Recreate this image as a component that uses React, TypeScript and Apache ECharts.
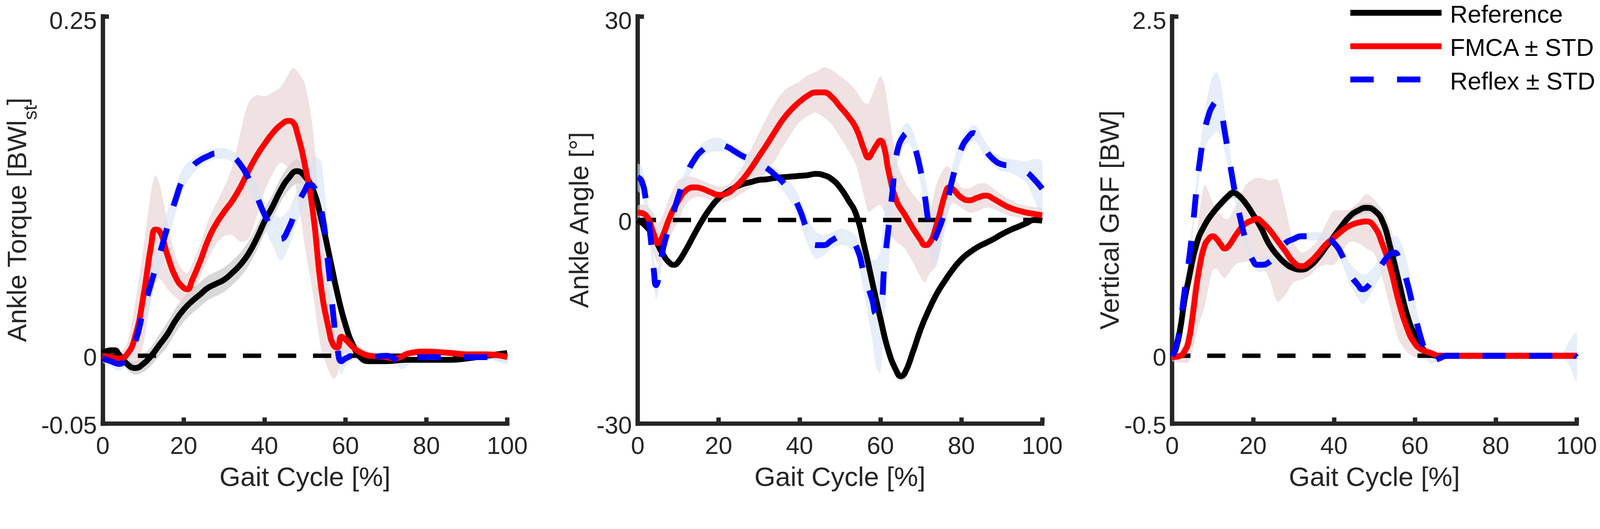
import React, { useEffect, useRef } from 'react'
import * as echarts from 'echarts'

const TEXT = '#262626'
const FONT = '"Liberation Sans", Arial, sans-serif'
const REF_WIDTH = 4383 // the layout below is measured on a 4383 px wide page

// ---------- ankle torque [BWl_st] ----------
const torqueTicks = [-0.05, 0, 0.25]
const torqueRefX = [0, 2, 3, 4, 6, 8, 10, 12, 14, 16, 18, 20, 22, 24, 26, 28, 30, 32, 34, 36, 38, 40, 42, 44, 46, 48, 50, 52, 54, 56, 58, 60, 62, 64, 66, 70, 75, 80, 86, 90, 95, 100]
const torqueRef = [0.002, 0.004, 0.004, 0.001, -0.006, -0.009, -0.006, 0.000, 0.008, 0.016, 0.026, 0.034, 0.040, 0.045, 0.050, 0.053, 0.056, 0.061, 0.067, 0.075, 0.086, 0.099, 0.110, 0.122, 0.131, 0.136, 0.132, 0.122, 0.101, 0.074, 0.046, 0.023, 0.007, -0.002, -0.004, -0.004, -0.003, -0.003, -0.003, -0.002, 0.000, 0.002]
const torqueRefStd = [0.002, 0.002, 0.002, 0.003, 0.004, 0.005, 0.006, 0.007, 0.008, 0.009, 0.009, 0.009, 0.009, 0.009, 0.009, 0.009, 0.009, 0.009, 0.009, 0.009, 0.009, 0.009, 0.009, 0.009, 0.009, 0.009, 0.007, 0.006, 0.005, 0.004, 0.004, 0.003, 0.002, 0.001, 0.001, 0.001, 0.001, 0.001, 0.001, 0.001, 0.001, 0.001]
const torqueFmcaX = [0, 2, 4, 6, 8, 10, 12, 13, 14, 16, 18, 20, 21, 22, 24, 26, 28, 30, 32, 34, 36, 38, 40, 42, 44, 46, 47, 48, 50, 52, 54, 56, 57, 58, 59, 60, 62, 64, 66, 70, 72, 76, 80, 86, 90, 95, 100]
const torqueFmca = [0.000, -0.001, -0.002, 0.001, 0.014, 0.043, 0.082, 0.093, 0.092, 0.074, 0.058, 0.050, 0.049, 0.055, 0.069, 0.085, 0.097, 0.106, 0.114, 0.124, 0.136, 0.147, 0.156, 0.164, 0.170, 0.173, 0.172, 0.165, 0.140, 0.105, 0.050, 0.018, 0.008, 0.006, 0.014, 0.012, 0.006, 0.002, 0.000, -0.001, -0.002, 0.002, 0.003, 0.002, 0.001, 0.001, -0.001]
const torqueFmcaStd = [0.003, 0.003, 0.004, 0.008, 0.025, 0.035, 0.040, 0.040, 0.035, 0.025, 0.015, 0.012, 0.012, 0.012, 0.012, 0.014, 0.015, 0.018, 0.025, 0.040, 0.050, 0.045, 0.035, 0.030, 0.028, 0.035, 0.040, 0.045, 0.060, 0.060, 0.045, 0.030, 0.025, 0.020, 0.015, 0.010, 0.006, 0.004, 0.003, 0.003, 0.003, 0.003, 0.003, 0.003, 0.003, 0.003, 0.003]
const torqueReflexX = [0, 2, 4, 6, 8, 10, 12, 14, 16, 18, 20, 22, 24, 26, 28, 30, 32, 34, 36, 38, 40, 42, 44, 46, 48, 50, 51, 52, 54, 56, 57, 58, 59, 60, 62, 66, 70, 72, 74, 76, 78, 80, 90, 96, 98, 100]
const torqueReflex = [-0.002, -0.004, -0.006, -0.001, 0.010, 0.033, 0.054, 0.074, 0.095, 0.115, 0.131, 0.139, 0.144, 0.147, 0.149, 0.149, 0.147, 0.141, 0.131, 0.118, 0.104, 0.093, 0.086, 0.094, 0.110, 0.122, 0.126, 0.125, 0.108, 0.060, 0.030, 0.006, -0.004, -0.002, 0.000, -0.001, 0.000, -0.002, -0.006, -0.003, -0.001, -0.001, -0.001, -0.001, -0.002, -0.003]
const torqueReflexStd = [0.003, 0.004, 0.005, 0.006, 0.008, 0.010, 0.012, 0.012, 0.012, 0.010, 0.008, 0.006, 0.005, 0.004, 0.004, 0.004, 0.004, 0.005, 0.006, 0.008, 0.010, 0.012, 0.016, 0.014, 0.012, 0.012, 0.015, 0.022, 0.035, 0.020, 0.015, 0.012, 0.010, 0.006, 0.003, 0.002, 0.002, 0.003, 0.004, 0.003, 0.002, 0.002, 0.002, 0.002, 0.003, 0.003]

// ---------- ankle angle [deg] ----------
const angleTicks = [-30, 0, 30]
const angleRefX = [0, 2, 4, 6, 8, 9, 10, 12, 14, 16, 18, 20, 22, 24, 26, 28, 30, 32, 34, 36, 38, 40, 42, 44, 46, 48, 50, 52, 54, 56, 58, 60, 62, 64, 65, 66, 68, 70, 72, 74, 76, 78, 80, 82, 84, 86, 88, 90, 92, 94, 96, 98, 100]
const angleRef = [0.0, -0.9, -2.5, -4.8, -6.4, -6.6, -6.2, -4.3, -2.1, 0.0, 1.8, 3.2, 4.1, 4.8, 5.3, 5.6, 5.9, 6.0, 6.2, 6.3, 6.4, 6.5, 6.6, 6.8, 6.6, 6.0, 4.8, 3.0, 0.8, -3.8, -9.2, -14.5, -19.3, -22.3, -23.0, -22.6, -19.5, -16.0, -13.2, -10.8, -8.9, -7.2, -5.8, -4.8, -4.0, -3.4, -2.8, -2.1, -1.5, -1.0, -0.5, 0.0, -0.1]
const angleRefStd = [0.2, 0.3, 0.3, 0.3, 0.3, 0.3, 0.3, 0.3, 0.3, 0.3, 0.3, 0.3, 0.3, 0.3, 0.3, 0.3, 0.3, 0.3, 0.3, 0.3, 0.3, 0.3, 0.3, 0.3, 0.3, 0.3, 0.3, 0.3, 0.3, 0.3, 0.4, 0.5, 0.5, 0.6, 0.7, 0.7, 0.6, 0.5, 0.4, 0.3, 0.3, 0.3, 0.3, 0.3, 0.3, 0.3, 0.3, 0.3, 0.3, 0.3, 0.3, 0.3, 0.3]
const angleFmcaX = [0, 2, 4, 5, 6, 8, 10, 12, 14, 16, 18, 20, 22, 24, 26, 28, 30, 32, 34, 36, 38, 40, 42, 44, 46, 48, 50, 52, 54, 56, 57, 58, 59, 60, 61, 62, 64, 66, 68, 70, 71, 72, 74, 76, 77, 78, 80, 82, 84, 86, 88, 90, 92, 94, 96, 98, 100]
const angleFmca = [1.1, 0.7, -2.1, -3.4, -2.6, 0.5, 2.8, 4.4, 4.8, 4.6, 4.1, 3.7, 3.9, 4.8, 6.0, 7.6, 9.4, 11.2, 13.1, 14.9, 16.3, 17.4, 18.3, 18.8, 18.8, 18.1, 16.7, 15.3, 13.5, 10.3, 9.2, 10.0, 11.0, 11.7, 10.5, 7.2, 2.8, 0.8, -1.2, -3.0, -3.7, -3.5, -0.5, 3.8, 4.8, 4.5, 3.3, 2.9, 3.3, 3.6, 3.1, 2.4, 1.8, 1.4, 1.1, 0.9, 0.7]
const angleFmcaStd = [1.0, 1.5, 3.0, 3.0, 3.0, 3.0, 3.0, 2.0, 1.5, 1.2, 1.2, 1.2, 1.2, 1.5, 2.0, 2.8, 3.5, 4.0, 4.2, 4.0, 3.5, 3.0, 3.0, 3.0, 3.7, 4.0, 4.5, 5.0, 5.5, 7.0, 8.0, 8.5, 9.0, 9.5, 9.5, 9.0, 6.0, 5.0, 5.0, 5.5, 5.5, 4.5, 6.0, 4.0, 3.0, 2.0, 1.5, 1.8, 2.0, 1.8, 1.5, 1.3, 1.2, 1.0, 1.0, 1.0, 1.0]
const angleReflexX = [0, 1, 2, 3, 4, 4.5, 5, 6, 7, 8, 10, 12, 14, 16, 18, 20, 22, 24, 26, 28, 30, 32, 34, 36, 38, 40, 42, 44, 46, 48, 50, 52, 54, 56, 58, 59, 60, 61, 62, 63, 64, 66, 67, 68, 70, 71, 72, 73, 74, 76, 78, 80, 82, 83, 84, 86, 88, 90, 92, 94, 96, 98, 100]
const angleReflex = [6.3, 5.7, 3.0, -1.6, -7.6, -9.6, -8.9, -5.0, -2.5, -0.7, 3.4, 6.6, 8.9, 10.3, 11.0, 11.1, 10.8, 10.1, 9.4, 8.9, 8.2, 7.6, 6.6, 5.5, 3.9, 1.6, -1.6, -3.7, -3.7, -3.0, -2.5, -2.7, -3.9, -8.0, -11.8, -13.8, -13.5, -6.5, -1.2, 4.3, 9.7, 12.6, 12.8, 11.7, 7.1, 3.4, -0.7, -3.0, -2.0, 1.5, 6.5, 10.5, 12.4, 12.8, 12.4, 10.3, 8.9, 8.2, 8.0, 7.6, 7.1, 6.0, 4.6]
const angleReflexStd = [2.0, 2.0, 2.0, 2.0, 2.0, 2.0, 2.0, 1.8, 1.5, 1.3, 1.0, 1.0, 1.0, 1.0, 1.0, 1.0, 0.8, 0.8, 0.8, 0.8, 0.8, 0.8, 1.0, 1.2, 1.5, 1.8, 2.0, 2.0, 1.5, 1.2, 1.2, 1.2, 1.5, 3.0, 6.0, 8.0, 9.0, 8.0, 6.0, 3.0, 2.0, 1.5, 1.5, 1.5, 2.0, 3.0, 4.0, 4.0, 4.0, 3.0, 2.0, 1.5, 1.2, 1.2, 1.2, 1.2, 1.0, 1.0, 1.0, 1.2, 1.5, 3.0, 4.0]

// ---------- vertical GRF [BW] ----------
const grfTicks = [-0.5, 0, 2.5]
const grfRefX = [0, 1, 2, 3, 4, 6, 8, 10, 12, 14, 15, 16, 18, 20, 22, 24, 26, 28, 30, 32, 34, 36, 38, 40, 42, 44, 46, 48, 50, 52, 54, 56, 58, 60, 62, 64, 66, 70, 100]
const grfRef = [0.0, 0.06, 0.2, 0.4, 0.55, 0.82, 0.96, 1.05, 1.12, 1.18, 1.20, 1.19, 1.13, 1.04, 0.94, 0.82, 0.74, 0.68, 0.645, 0.635, 0.66, 0.72, 0.80, 0.88, 0.96, 1.03, 1.07, 1.09, 1.07, 0.99, 0.79, 0.55, 0.31, 0.15, 0.05, 0.01, 0.0, 0.0, 0.0]
const grfRefStd = [0.01, 0.02, 0.03, 0.03, 0.03, 0.04, 0.04, 0.04, 0.04, 0.04, 0.04, 0.04, 0.04, 0.03, 0.03, 0.03, 0.03, 0.03, 0.03, 0.03, 0.03, 0.03, 0.03, 0.03, 0.03, 0.04, 0.04, 0.04, 0.04, 0.04, 0.03, 0.03, 0.03, 0.03, 0.02, 0.01, 0.005, 0.005, 0.005]
const grfFmcaX = [0, 2, 3, 4, 5, 6, 7, 8, 9, 10, 11, 12, 13, 14, 16, 18, 20, 21, 22, 24, 26, 28, 30, 32, 34, 36, 38, 40, 42, 44, 46, 48, 50, 52, 54, 56, 58, 60, 62, 64, 66, 70, 100]
const grfFmca = [-0.01, 0.0, 0.03, 0.10, 0.28, 0.51, 0.69, 0.81, 0.86, 0.88, 0.86, 0.82, 0.79, 0.81, 0.90, 0.97, 1.00, 1.01, 0.99, 0.93, 0.85, 0.77, 0.69, 0.66, 0.69, 0.75, 0.82, 0.87, 0.92, 0.96, 0.98, 0.99, 0.95, 0.82, 0.64, 0.40, 0.21, 0.09, 0.04, 0.02, 0.0, 0.0, 0.0]
const grfFmcaStd = [0.03, 0.05, 0.08, 0.15, 0.25, 0.35, 0.42, 0.45, 0.35, 0.25, 0.22, 0.22, 0.22, 0.20, 0.22, 0.28, 0.30, 0.30, 0.32, 0.36, 0.45, 0.32, 0.15, 0.10, 0.10, 0.10, 0.15, 0.20, 0.15, 0.12, 0.15, 0.20, 0.20, 0.25, 0.30, 0.28, 0.18, 0.10, 0.05, 0.03, 0.01, 0.01, 0.01]
const grfReflexX = [0, 1, 2, 3, 4, 5, 6, 7, 8, 9, 10, 11, 12, 13, 14, 15, 16, 17, 18, 19, 20, 21, 22, 24, 26, 28, 30, 32, 34, 36, 38, 40, 42, 44, 46, 47, 48, 50, 52, 54, 55, 56, 58, 60, 62, 63, 64, 66, 68, 96, 98, 100]
const grfReflex = [0.0, 0.07, 0.23, 0.46, 0.67, 0.92, 1.22, 1.47, 1.65, 1.77, 1.84, 1.87, 1.81, 1.65, 1.47, 1.29, 1.13, 0.99, 0.87, 0.77, 0.70, 0.67, 0.67, 0.69, 0.76, 0.83, 0.86, 0.88, 0.88, 0.88, 0.87, 0.83, 0.74, 0.60, 0.52, 0.49, 0.50, 0.58, 0.68, 0.75, 0.76, 0.72, 0.55, 0.30, 0.08, 0.0, -0.04, -0.02, 0.0, 0.0, 0.02, -0.01]
const grfReflexStd = [0.03, 0.04, 0.05, 0.06, 0.06, 0.07, 0.08, 0.10, 0.14, 0.18, 0.22, 0.22, 0.20, 0.15, 0.10, 0.08, 0.07, 0.06, 0.05, 0.05, 0.05, 0.05, 0.05, 0.05, 0.04, 0.04, 0.03, 0.03, 0.03, 0.03, 0.03, 0.04, 0.06, 0.08, 0.10, 0.11, 0.10, 0.08, 0.08, 0.10, 0.12, 0.15, 0.15, 0.10, 0.05, 0.03, 0.02, 0.01, 0.01, 0.01, 0.08, 0.18]

const legendNames = ['Reference', 'FMCA ± STD', 'Reflex ± STD']

const panels = [
  {
    ticks: torqueTicks,
    title: '{m|Ankle Torque [BWl}{s|st}{m|]}',
    nameGap: 186,
    ref: [torqueRefX, torqueRef, torqueRefStd],
    fmca: [torqueFmcaX, torqueFmca, torqueFmcaStd],
    reflex: [torqueReflexX, torqueReflex, torqueReflexStd],
  },
  {
    ticks: angleTicks,
    title: 'Ankle Angle [°]',
    nameGap: 124,
    ref: [angleRefX, angleRef, angleRefStd],
    fmca: [angleFmcaX, angleFmca, angleFmcaStd],
    reflex: [angleReflexX, angleReflex, angleReflexStd],
  },
  {
    ticks: grfTicks,
    title: 'Vertical GRF [BW]',
    nameGap: 131,
    ref: [grfRefX, grfRef, grfRefStd],
    fmca: [grfFmcaX, grfFmca, grfFmcaStd],
    reflex: [grfReflexX, grfReflex, grfReflexStd],
  },
]

const gridLeft = [281.5, 1747, 3211]

const App = () => {
  const chart: any = useRef()

  useEffect(() => {
    document.body.style.margin = '0'
    document.body.style.overflow = 'hidden'
    const myChart = echarts.init(chart.current, null, { renderer: 'svg' })
    const s = myChart.getWidth() / REF_WIDTH
    const S = (v: number) => v * s

    const grid: any = []
    const xAxis: any = []
    const yAxis: any = []
    const series: any = []

    // mean ± std band, drawn as one smoothed polygon in the grid's own coordinates
    const band = (i: number, key: string, d: any, color: string) => {
      const [xs, mean, sd] = d
      series.push({
        type: 'custom', name: `${key}-band-${i}`, xAxisIndex: i, yAxisIndex: i, silent: true, clip: true,
        data: xs.map((x: number, j: number) => [x, mean[j] - sd[j], mean[j] + sd[j]]),
        encode: { x: 0, y: [1, 2] },
        renderItem: (params: any, api: any) => {
          if (params.dataIndex !== 0) return null
          const up = xs.map((x: number, j: number) => api.coord([x, mean[j] + sd[j]]))
          const lo = xs.map((x: number, j: number) => api.coord([x, mean[j] - sd[j]])).reverse()
          return {
            type: 'polygon',
            shape: { points: up.concat(lo), smooth: 0.3 },
            style: { fill: color, stroke: null },
          }
        },
      })
    }
    const mean = (i: number, name: string, d: any, color: string, type: any) => {
      const [xs, ys] = d
      series.push({
        type: 'line', name, xAxisIndex: i, yAxisIndex: i, smooth: 0.5, symbol: 'none', silent: true,
        data: xs.map((x: number, j: number) => [x, ys[j]]),
        lineStyle: { color, width: S(16), type },
      })
    }

    const tickText = { fontSize: S(67), lineHeight: S(44), color: TEXT, fontFamily: FONT }

    panels.forEach((p, i) => {
      grid.push({ left: S(gridLeft[i]), top: S(27.5), width: S(1108), height: S(1132), show: false })
      xAxis.push({
        type: 'value', gridIndex: i, min: 0, max: 100, interval: 20,
        axisLine: { onZero: false, lineStyle: { color: TEXT, width: S(12), cap: 'square' } },
        axisTick: { inside: true, length: S(17), lineStyle: { color: TEXT, width: S(12) } },
        axisLabel: { fontSize: S(67), color: TEXT, fontFamily: FONT, margin: S(26) },
        splitLine: { show: false },
        name: 'Gait Cycle [%]', nameLocation: 'middle', nameGap: S(108),
        nameTextStyle: { fontSize: S(74), color: TEXT, fontFamily: FONT },
      })
      yAxis.push({
        type: 'value', gridIndex: i, min: p.ticks[0], max: p.ticks[2],
        axisLine: { onZero: false, lineStyle: { color: TEXT, width: S(12), cap: 'square' } },
        axisTick: { inside: true, length: S(17), customValues: p.ticks, lineStyle: { color: TEXT, width: S(12) } },
        axisLabel: {
          ...tickText, margin: S(16), customValues: p.ticks,
          // the top label sits a little lower so it stays inside the page
          formatter: (v: number) => (v === p.ticks[2] ? `{t|${v}}` : `{n|${v}}`),
          rich: {
            t: { ...tickText, padding: [S(22), 0, 0, 0] },
            n: { ...tickText, padding: [S(7), 0, 0, 0] },
          },
        },
        splitLine: { show: false },
        name: p.title, nameLocation: 'middle', nameRotate: 90, nameGap: S(p.nameGap),
        nameTextStyle: {
          fontSize: S(74), color: TEXT, fontFamily: FONT,
          rich: {
            m: { fontSize: S(74), lineHeight: S(74), verticalAlign: 'top', color: TEXT, fontFamily: FONT },
            s: { fontSize: S(52), lineHeight: S(52), verticalAlign: 'top', padding: [S(47), 0, 0, 0], color: TEXT, fontFamily: FONT },
          },
        },
      })
      // zero reference line
      series.push({
        type: 'line', name: `zero-${i}`, xAxisIndex: i, yAxisIndex: i, symbol: 'none', silent: true,
        data: [[0, 0], [100, 0]],
        lineStyle: { color: '#000000', width: S(12), type: [S(50), S(46)] },
      })
      band(i, 'ref', p.ref, 'rgba(190,190,190,0.6)')
      band(i, 'fmca', p.fmca, 'rgba(230,207,207,0.6)')
      band(i, 'reflex', p.reflex, 'rgba(213,227,247,0.6)')
      mean(i, legendNames[0], p.ref, '#000000', 'solid')
      mean(i, legendNames[1], p.fmca, '#ff0000', 'solid')
      mean(i, legendNames[2], p.reflex, '#0000ff', [S(64), S(64)])
    })

    const legendY = [35, 126.5, 217.5]
    const legendColor = ['#000000', '#ff0000', '#0000ff']
    const graphic: any = []
    legendNames.forEach((n, k) => {
      graphic.push({
        type: 'line', silent: true,
        shape: { x1: S(3699), y1: S(legendY[k]), x2: S(3949), y2: S(legendY[k]) },
        style: { stroke: legendColor[k], lineWidth: S(16), lineDash: k === 2 ? [S(64), S(64)] : null },
      })
      graphic.push({
        type: 'text', silent: true, x: S(3972), y: S(legendY[k] + 3.5),
        style: {
          text: n, fontSize: S(67), fontFamily: FONT, fill: '#000000',
          textAlign: 'left', textVerticalAlign: 'middle', align: 'left', verticalAlign: 'middle',
        },
      })
    })

    myChart.setOption({
      animation: false,
      backgroundColor: '#ffffff',
      grid,
      xAxis,
      yAxis,
      series,
      graphic,
    })
    return () => {
      myChart.dispose()
    }
  }, [])

  return <div ref={chart} style={{ width: '100vw', height: '100vh' }} />
}

export default App
